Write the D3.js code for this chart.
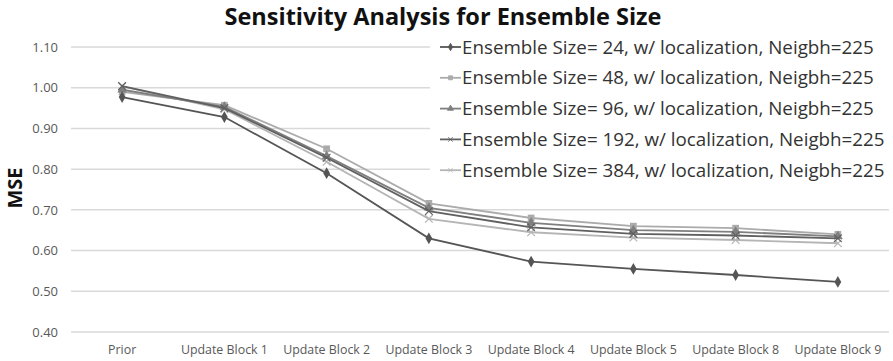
<!DOCTYPE html>
<html>
<head>
<meta charset="utf-8">
<script src="https://cdn.jsdelivr.net/npm/d3@7"></script>
<style>
  body { margin: 0; background: #fff; }
  svg { display: block; font-family: "Open Sans", sans-serif; }
</style>
</head>
<body>
<svg id="chart"></svg>
<script>
var categories = ["Prior", "Update Block 1", "Update Block 2", "Update Block 3", "Update Block 4",
                  "Update Block 5", "Update Block 8", "Update Block 9"]
var yTicks = [0.40, 0.50, 0.60, 0.70, 0.80, 0.90, 1.00, 1.10]

var seriesNames = [
    "Ensemble Size= 24, w/ localization, Neigbh=225",
    "Ensemble Size= 48, w/ localization, Neigbh=225",
    "Ensemble Size= 96, w/ localization, Neigbh=225",
    "Ensemble Size= 192, w/ localization, Neigbh=225",
    "Ensemble Size= 384, w/ localization, Neigbh=225"
]
var size24  = [0.977, 0.928, 0.790, 0.630, 0.573, 0.555, 0.540, 0.523]
var size48  = [0.990, 0.957, 0.850, 0.716, 0.680, 0.660, 0.655, 0.640]
var size96  = [0.995, 0.953, 0.832, 0.705, 0.668, 0.650, 0.646, 0.635]
var size192 = [1.004, 0.950, 0.828, 0.697, 0.657, 0.641, 0.637, 0.630]
var size384 = [1.003, 0.947, 0.818, 0.678, 0.645, 0.632, 0.626, 0.618]

var allSeries = [size24, size48, size96, size192, size384]
var colors = ["#555555", "#ababab", "#7f7f7f", "#606060", "#b5b5b5"]
var symbols = [d3.symbolDiamond, d3.symbolSquare, d3.symbolTriangle, d3.symbolX, d3.symbolX]
var symSizes = [40, 45, 40, 40, 40]

var dimensions = {
    width: 893,
    height: 361,
    margin: { top: 47, bottom: 29, left: 71, right: 4 }
}

var svg = d3.select("#chart")
    .attr("width", dimensions.width)
    .attr("height", dimensions.height)

var xScale = d3.scaleBand()
    .domain(categories)
    .range([dimensions.margin.left, dimensions.width - dimensions.margin.right])

var yScale = d3.scaleLinear()
    .domain([0.40, 1.10])
    .range([dimensions.height - dimensions.margin.bottom, dimensions.margin.top])

// gridlines
svg.append("g")
    .selectAll("line")
    .data(yTicks)
    .enter()
    .append("line")
    .attr("x1", dimensions.margin.left)
    .attr("x2", dimensions.width - dimensions.margin.right)
    .attr("y1", d => yScale(d))
    .attr("y2", d => yScale(d))
    .attr("stroke", "#d9d9d9")
    .attr("stroke-width", 1.5)

var yAxis = d3.axisLeft(yScale).tickValues(yTicks).tickFormat(d3.format(".2f")).tickSize(0).tickPadding(13)
var yAxisG = svg.append("g")
    .attr("transform", "translate(" + dimensions.margin.left + ",0)")
    .call(yAxis)
yAxisG.select(".domain").remove()
yAxisG.selectAll("text")
    .attr("font-family", "Open Sans")
    .attr("font-size", "13px")
    .attr("fill", "#595959")

var xAxis = d3.axisBottom(xScale).tickSize(0).tickPadding(13)
var xAxisG = svg.append("g")
    .attr("transform", "translate(0," + (dimensions.height - dimensions.margin.bottom) + ")")
    .call(xAxis)
xAxisG.select(".domain").remove()
xAxisG.selectAll("text")
    .attr("font-family", "Open Sans")
    .attr("font-size", "12.4px")
    .attr("fill", "#595959")

// legend background covers the grid
svg.append("rect")
    .attr("x", 430)
    .attr("y", 36)
    .attr("width", 463)
    .attr("height", 148)
    .attr("fill", "#fff")

var line = d3.line()
    .x((d, i) => xScale(categories[i]) + xScale.bandwidth() / 2)
    .y(d => yScale(d))

// draw back to front so series 24 stays on top
var order = [4, 1, 2, 3, 0]
order.forEach(function (s) {
    svg.append("path")
        .datum(allSeries[s])
        .attr("d", line)
        .attr("fill", "none")
        .attr("stroke", colors[s])
        .attr("stroke-width", 1.8)

    svg.append("g")
        .selectAll("path")
        .data(allSeries[s])
        .enter()
        .append("path")
        .attr("transform", (d, i) => "translate(" + (xScale(categories[i]) + xScale.bandwidth() / 2) + "," + yScale(d) + ")")
        .attr("d", d3.symbol().type(symbols[s]).size(symSizes[s]))
        .attr("fill", colors[s])
        .attr("stroke", colors[s])
        .attr("stroke-width", symbols[s] === d3.symbolX ? 1.2 : 0)
})

// legend
var legend = svg.append("g")
    .selectAll("g")
    .data(seriesNames)
    .enter()
    .append("g")
    .attr("transform", (d, i) => "translate(440," + (47 + i * 30.8) + ")")

legend.append("line")
    .attr("x1", 0)
    .attr("x2", 21)
    .attr("stroke", (d, i) => colors[i])
    .attr("stroke-width", 1.8)

legend.append("path")
    .attr("transform", "translate(10.5,0)")
    .attr("d", (d, i) => d3.symbol().type(symbols[i]).size(16)())
    .attr("fill", (d, i) => colors[i])
    .attr("stroke", (d, i) => colors[i])
    .attr("stroke-width", 0.8)

legend.append("text")
    .attr("x", 22)
    .attr("dy", "0.35em")
    .text(d => d)
    .attr("font-size", "18.8px")
    .attr("fill", "#333")

svg.append("text")
    .attr("x", 443)
    .attr("y", 25)
    .attr("text-anchor", "middle")
    .text("Sensitivity Analysis for Ensemble Size")
    .attr("font-size", "23.5px")
    .attr("font-weight", "bold")
    .attr("fill", "#111")

svg.append("text")
    .attr("transform", "translate(22,188) rotate(-90)")
    .attr("text-anchor", "middle")
    .text("MSE")
    .attr("font-size", "20px")
    .attr("font-weight", "bold")
    .attr("fill", "#111")
</script>
</body>
</html>
